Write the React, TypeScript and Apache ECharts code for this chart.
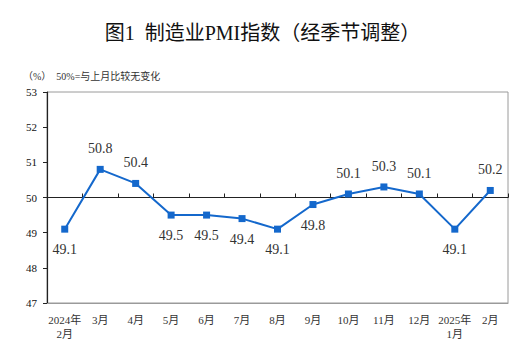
import React, { useEffect, useRef } from "react";
import * as echarts from "echarts";

const categories = ["2024年\n2月", "3月", "4月", "5月", "6月", "7月", "8月", "9月", "10月", "11月", "12月", "2025年\n1月", "2月"];
const pmiValues = [49.1, 50.8, 50.4, 49.5, 49.5, 49.4, 49.1, 49.8, 50.1, 50.3, 50.1, 49.1, 50.2];
const yTicks = { min: 47, max: 53, interval: 1 };
const baseline = 50;
const titleText = "图1  制造业PMI指数（经季节调整）";
const noteText = "（%）  50%=与上月比较无变化";

const SERIF = "'Liberation Serif', 'Noto Sans CJK SC', serif";

export default function App() {
  const ref = useRef<HTMLDivElement>(null);
  useEffect(() => {
    if (!ref.current) return;
    const chart = echarts.init(ref.current, null, { renderer: "svg" });
    const gridTop = 92;
    const gridBottom = 54;
    const plotH = 357 - gridTop - gridBottom;
    const baseOffset = -plotH * (baseline - yTicks.min) / (yTicks.max - yTicks.min);
    chart.setOption({
      animation: false,
      backgroundColor: "#fff",
      title: [
        {
          text: titleText,
          left: "center",
          top: 18,
          textStyle: { fontFamily: SERIF, fontSize: 20, fontWeight: "normal", color: "#111" },
        },
        {
          text: noteText,
          left: 18,
          top: 66,
          textStyle: { fontFamily: SERIF, fontSize: 10, fontWeight: "normal", color: "#333" },
        },
      ],
      grid: {
        left: 47, right: 17, top: gridTop, bottom: gridBottom,
        show: true, borderColor: "#9a9a9a", borderWidth: 1,
      },
      xAxis: [
        {
          type: "category",
          data: categories,
          boundaryGap: true,
          axisLine: { show: true, lineStyle: { color: "#9a9a9a", width: 1 } },
          axisTick: { show: false },
          axisLabel: {
            fontFamily: SERIF, fontSize: 11, color: "#333", margin: 10, lineHeight: 14,
            interval: 0,
          },
        },
        {
          type: "category",
          data: categories,
          boundaryGap: true,
          position: "bottom",
          offset: baseOffset,
          axisLine: { show: true, lineStyle: { color: "#222", width: 1.2 } },
          axisTick: { show: true, inside: true, length: 4, interval: 0, lineStyle: { color: "#222" } },
          axisLabel: { show: false },
        },
      ],
      yAxis: {
        type: "value",
        min: yTicks.min,
        max: yTicks.max,
        interval: yTicks.interval,
        axisLine: { show: true, lineStyle: { color: "#222", width: 1.2 } },
        axisTick: { show: true, length: 4, lineStyle: { color: "#222" } },
        axisLabel: { fontFamily: SERIF, fontSize: 11, color: "#111", margin: 10 },
        splitLine: { show: false },
      },
      series: [
        {
          type: "line",
          xAxisIndex: 0,
          data: pmiValues.map((v) => ({
            value: v,
            label: { position: v >= baseline ? "top" : "bottom" },
          })),
          symbol: "rect",
          symbolSize: 7,
          itemStyle: { color: "#1468cc" },
          lineStyle: { color: "#1468cc", width: 2 },
          label: {
            show: true,
            distance: 10,
            fontFamily: SERIF,
            fontSize: 14,
            color: "#333",
            formatter: (p: any) => Number(p.value).toFixed(1),
          },
        },
      ],
    });
    return () => chart.dispose();
  }, []);
  return <div ref={ref} style={{ position: "absolute", left: 0, top: 0, width: 525, height: 357 }} />;
}
